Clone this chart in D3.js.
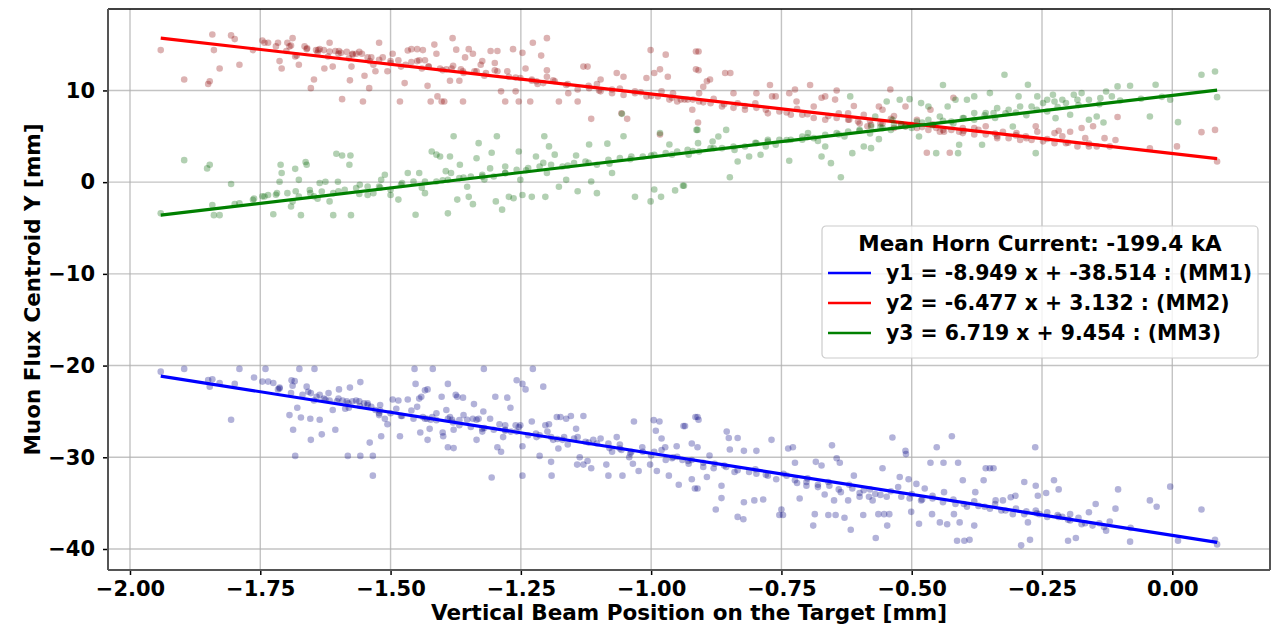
<!DOCTYPE html>
<html>
<head>
<meta charset="utf-8">
<script src="https://cdn.jsdelivr.net/npm/d3@7"></script>
<style>
  body { margin: 0; background: #fff; }
  svg text { font-family: "DejaVu Sans", sans-serif; font-weight: bold; }
</style>
</head>
<body>
<script>
// beam position [mm] vs centroid [mm]
var mm1 = [
  [-1.941,-20.66],[-1.896,-20.36],[-1.850,-21.57],[-1.842,-21.5],[-1.847,-22.3],[-1.828,-21.9],[-1.806,-25.9],[-1.799,-22.0],
  [-1.790,-20.36],[-1.762,-21.3],[-1.746,-21.75],[-1.740,-20.36],[-1.735,-21.75],[-1.725,-21.9],[-1.716,-22.6],[-1.713,-22.5],
  [-1.694,-25.4],[-1.69,-21.6],[-1.688,-22.2],[-1.684,-21.7],[-1.687,-27.0],[-1.683,-29.85],[-1.679,-24.6],[-1.675,-20.36],
  [-1.672,-25.66],[-1.661,-22.3],[-1.658,-22.85],[-1.653,-23.0],[-1.654,-25.8],[-1.653,-28.1],[-1.646,-20.36],[-1.642,-23.4],
  [-1.636,-23.2],[-1.628,-23.6],[-1.619,-23.0],[-1.617,-23.8],[-1.636,-25.9],[-1.632,-27.5],[-1.611,-24.85],[-1.606,-27.0],
  [-1.599,-22.6],[-1.592,-23.8],[-1.584,-23.9],[-1.578,-22.4],[-1.587,-24.7],[-1.582,-29.85],[-1.558,-29.85],[-1.534,-29.85],
  [-1.573,-23.9],[-1.566,-23.8],[-1.558,-21.8],[-1.551,-24.1],[-1.544,-24.3],[-1.537,-24.5],[-1.540,-28.4],[-1.534,-32.0],
  [-1.529,-24.85],[-1.522,-25.4],[-1.520,-24.3],[-1.511,-25.8],[-1.506,-26.4],[-1.518,-27.7],[-1.496,-23.7],[-1.485,-23.8],
  [-1.489,-24.7],[-1.482,-27.7],[-1.467,-23.7],[-1.454,-20.36],[-1.419,-20.36],[-1.452,-22.0],[-1.445,-23.6],[-1.441,-23.4],
  [-1.434,-22.7],[-1.429,-22.6],[-1.449,-24.5],[-1.438,-25.6],[-1.430,-25.8],[-1.423,-25.9],[-1.412,-25.2],[-1.443,-27.3],
  [-1.429,-28.1],[-1.425,-26.9],[-1.402,-23.4],[-1.393,-24.85],[-1.390,-22.0],[-1.390,-28.9],[-1.379,-29.0],[-1.400,-27.3],
  [-1.399,-27.7],[-1.386,-25.6],[-1.382,-25.9],[-1.379,-27.0],[-1.375,-23.2],[-1.372,-23.4],[-1.361,-23.5],[-1.368,-26.5],
  [-1.353,-25.9],[-1.342,-25.8],[-1.335,-25.9],[-1.331,-25.8],[-1.340,-24.2],[-1.335,-28.1],[-1.324,-27.2],[-1.322,-25.0],
  [-1.321,-20.36],[-1.306,-32.2],[-1.309,-25.8],[-1.299,-23.4],[-1.295,-28.9],[-1.291,-26.4],[-1.288,-29.4],[-1.284,-27.8],
  [-1.276,-23.5],[-1.270,-24.6],[-1.280,-26.5],[-1.269,-27.2],[-1.258,-21.6],[-1.254,-26.7],[-1.251,-26.5],[-1.247,-22.0],
  [-1.247,-28.8],[-1.247,-32.0],[-1.241,-22.6],[-1.229,-26.1],[-1.227,-20.36],[-1.221,-27.4],[-1.214,-29.85],[-1.207,-22.3],
  [-1.203,-26.5],[-1.199,-27.2],[-1.196,-26.4],[-1.192,-30.5],[-1.191,-32.0],[-1.188,-28.1],[-1.181,-25.6],[-1.174,-25.6],
  [-1.178,-29.05],[-1.167,-27.8],[-1.163,-25.8],[-1.154,-25.5],[-1.144,-26.9],[-1.142,-30.8],[-1.141,-27.8],[-1.137,-30.0],
  [-1.130,-25.5],[-1.130,-30.8],[-1.122,-30.4],[-1.115,-31.2],[-1.111,-28.1],[-1.097,-27.95],[-1.086,-30.8],[-1.082,-32.0],
  [-1.075,-29.4],[-1.066,-27.8],[-1.057,-29.2],[-1.055,-32.0],[-1.042,-30.0],[-1.035,-30.7],[-1.033,-26.1],[-1.024,-31.5],
  [-1.017,-28.9],[-1.002,-30.8],[-0.995,-25.95],[-0.991,-27.1],[-0.989,-31.5],[-0.984,-26.1],[-0.980,-27.95],[-0.973,-28.9],
  [-0.966,-32.0],[-0.958,-30.0],[-0.951,-28.8],[-0.947,-33.0],[-0.938,-26.6],[-0.929,-30.4],[-0.922,-32.4],[-0.916,-33.4],
  [-0.915,-25.6],[-0.935,-26.6],[-0.911,-25.6],[-0.909,-25.9],[-0.922,-28.5],[-0.911,-28.9],[-0.911,-33.4],
  [-0.888,-29.8],[-0.893,-32.15],[-0.876,-35.7],[-0.865,-33.1],[-0.865,-34.45],[-0.855,-27.2],[-0.851,-27.9],[-0.849,-29.15],
  [-0.834,-27.9],[-0.834,-36.5],[-0.823,-36.75],[-0.822,-34.9],[-0.822,-29.3],[-0.802,-34.7],[-0.798,-29.3],[-0.785,-34.6],
  [-0.769,-28.1],[-0.754,-36.3],[-0.747,-36.3],[-0.75,-35.7],[-0.737,-29.05],[-0.728,-28.9],[-0.724,-30.6],[-0.715,-34.5],
  [-0.702,-33.1],[-0.689,-37.45],[-0.686,-36.2],[-0.684,-30.5],[-0.673,-30.9],[-0.667,-34.05],[-0.660,-36.3],[-0.653,-28.7],
  [-0.649,-34.7],[-0.646,-36.3],[-0.644,-30.1],[-0.638,-30.6],[-0.629,-36.6],[-0.622,-34.7],[-0.617,-37.9],[-0.611,-32.0],
  [-0.600,-34.3],[-0.593,-36.3],[-0.582,-34.3],[-0.575,-34.7],[-0.569,-38.8],[-0.564,-36.2],[-0.556,-31.2],[-0.553,-36.2],
  [-0.547,-37.45],[-0.543,-36.2],[-0.537,-27.85],[-0.523,-32.15],[-0.512,-29.3],[-0.511,-29.65],[-0.506,-32.4],[-0.501,-35.95],
  [-0.491,-32.9],[-0.486,-37.25],[-0.475,-33.4],[-0.464,-30.6],[-0.461,-36.2],[-0.452,-28.9],[-0.446,-37.1],[-0.439,-30.6],
  [-0.432,-37.3],[-0.423,-27.7],[-0.419,-36.2],[-0.413,-39.1],[-0.411,-30.6],[-0.408,-37.1],[-0.402,-32.5],[-0.399,-39.1],
  [-0.389,-39.0],[-0.380,-37.45],[-0.378,-33.8],[-0.362,-32.5],[-0.358,-31.2],[-0.350,-31.2],[-0.343,-31.2],[-0.339,-34.7],
  [-0.325,-34.7],[-0.310,-34.35],[-0.301,-34.2],[-0.290,-39.6],[-0.284,-32.7],[-0.277,-37.1],[-0.273,-39.0],[-0.263,-28.9],
  [-0.262,-33.1],[-0.258,-34.2],[-0.255,-36.2],[-0.242,-33.9],[-0.227,-32.5],[-0.218,-33.5],[-0.211,-36.5],[-0.200,-39.1],
  [-0.196,-36.2],[-0.185,-38.8],[-0.167,-37.2],[-0.160,-36.0],[-0.147,-35.1],[-0.127,-38.0],[-0.109,-35.6],[-0.104,-33.5],
  [-0.081,-39.2],[-0.043,-34.7],[-0.030,-35.4],[-0.004,-33.2],[0.011,-39.1],[0.056,-35.7],[0.082,-39.0],[0.086,-39.5],
  [-0.922,-30.3],[-0.900,-31.05],[-0.878,-30.7],[-0.856,-31.05],[-0.834,-31.4],[-0.812,-31.6],[-0.798,-31.8],[-0.776,-32.0],
  [-0.746,-31.8],[-0.724,-32.5],[-0.702,-32.7],[-0.680,-33.25],[-0.658,-33.1],[-0.636,-33.8],[-0.614,-33.4],[-0.592,-33.6],
  [-0.570,-34.0],[-0.548,-34.3],[-0.526,-33.25],[-0.504,-34.5],[-0.482,-34.7],[-0.460,-34.5],[-0.438,-33.8],[-0.416,-35.1],
  [-0.394,-35.4],[-0.372,-35.3],[-0.350,-35.6],[-0.328,-35.8],[-0.306,-36.2],[-0.284,-36.2],[-0.262,-35.8],[-0.240,-36.5],
  [-0.218,-36.5],[-0.196,-36.9],[-0.174,-37.3],[-0.153,-37.45],[-0.131,-37.6],
  [-1.713,-22.4],[-1.691,-23.0],[-1.669,-23.2],[-1.647,-23.8],[-1.625,-23.7],[-1.603,-23.9],[-1.581,-24.1],[-1.559,-24.4],
  [-1.544,-24.1],[-1.522,-25.2],[-1.500,-25.2],[-1.478,-25.5],[-1.456,-25.8],[-1.434,-25.8],[-1.412,-25.95],[-1.390,-25.8],
  [-1.368,-25.95],[-1.346,-26.7],[-1.324,-26.9],[-1.302,-27.0],[-1.280,-27.0],[-1.258,-27.2],[-1.236,-27.6],[-1.214,-27.6],
  [-1.192,-27.8],[-1.170,-28.1],[-1.148,-27.95],[-1.126,-28.3],[-1.104,-28.5],[-1.082,-28.5],[-1.060,-29.05],[-1.038,-29.4],
  [-1.016,-29.4],[-0.994,-29.4],[-0.972,-30.3],[-0.950,-29.95],[-0.928,-30.7],
  [-1.60,-23.6],[-1.58,-24.6],[-1.56,-23.9],[-1.52,-24.9],[-1.48,-25.5],[-1.46,-24.9],[-1.42,-25.6],[-1.38,-26.2],[-1.36,-25.4],
  [-1.32,-26.8],[-1.28,-27.1],[-1.26,-26.5],[-1.22,-27.8],[-1.18,-28.0],[-1.16,-28.6],[-1.12,-28.4],[-1.08,-29.0],[-1.06,-28.6],
  [-1.04,-29.6],[-1.00,-29.8],[-0.98,-29.2],[-0.96,-30.1],[-0.94,-30.3],[-0.90,-30.6],[-0.88,-31.2],[-0.86,-30.9],[-0.84,-31.6],
  [-0.80,-31.3],[-0.78,-31.9],[-0.76,-32.4],[-0.74,-32.0],[-0.72,-32.8],[-0.70,-32.3],[-0.68,-33.0],[-0.66,-32.7],[-0.64,-33.5],
  [-0.62,-33.0],[-0.60,-33.9],[-0.58,-33.5],[-0.56,-34.1],[-0.54,-33.7],[-0.52,-34.3],[-0.50,-34.0],[-0.48,-34.6],[-0.46,-34.2],
  [-0.44,-34.9],[-0.42,-34.6],[-0.40,-35.1],[-0.38,-34.8],[-0.36,-35.4],[-0.34,-35.1],[-0.32,-35.8],[-0.30,-35.6],[-0.28,-35.9],
  [-0.26,-36.1],[-0.24,-36.0],[-0.22,-36.3],[-0.20,-36.8],[-0.18,-36.6],[-0.14,-37.2],[-0.12,-37.0],[-0.08,-37.7]
];

var mm2 = [
  [-1.941,14.4],[-1.896,11.2],[-1.850,10.7],[-1.847,11.0],[-1.842,16.1],[-1.839,14.4],[-1.828,12.4],[-1.806,16.0],[-1.799,15.6],
  [-1.790,12.8],[-1.764,14.4],[-1.746,15.45],[-1.735,15.2],[-1.716,15.2],[-1.709,12.4],[-1.713,13.2],[-1.698,15.2],[-1.694,14.8],
  [-1.688,15.7],[-1.683,13.7],[-1.676,12.8],[-1.665,14.8],[-1.653,10.25],[-1.647,11.2],[-1.643,14.4],[-1.636,14.5],[-1.628,14.4],
  [-1.627,12.4],[-1.617,15.2],[-1.611,12.6],[-1.606,14.3],[-1.599,14.3],[-1.593,9.05],[-1.584,14.2],[-1.578,11.1],[-1.575,12.6],
  [-1.573,14.0],[-1.566,14.0],[-1.555,14.0],[-1.553,8.8],[-1.550,11.6],[-1.541,10.25],[-1.537,13.6],[-1.533,12.8],[-1.529,12.1],
  [-1.522,15.2],[-1.515,13.6],[-1.506,12.1],[-1.496,14.0],[-1.485,13.3],[-1.482,8.8],[-1.473,10.8],[-1.467,14.35],[-1.460,14.5],
  [-1.449,14.5],[-1.445,13.3],[-1.438,14.4],[-1.434,13.3],[-1.429,10.5],[-1.427,12.6],[-1.423,8.8],[-1.416,15.0],[-1.412,14.0],
  [-1.410,9.35],[-1.402,8.8],[-1.397,8.8],[-1.393,12.3],[-1.386,11.05],[-1.381,15.7],[-1.374,14.45],[-1.368,11.05],[-1.365,12.3],
  [-1.361,8.8],[-1.357,13.6],[-1.350,14.5],[-1.342,14.0],[-1.335,12.1],[-1.327,12.8],[-1.324,13.2],[-1.308,14.3],[-1.300,13.0],
  [-1.295,14.3],[-1.288,9.9],[-1.280,8.8],[-1.276,12.1],[-1.265,14.5],[-1.260,9.9],[-1.254,8.8],[-1.247,14.1],[-1.241,12.4],
  [-1.232,8.8],[-1.229,11.05],[-1.227,15.2],[-1.218,10.7],[-1.211,13.8],[-1.200,15.7],[-1.200,12.2],[-1.188,11.1],[-1.177,8.8],
  [-1.159,9.7],[-1.141,8.8],[-1.130,12.6],[-1.122,12.6],[-1.115,6.9],[-1.104,10.7],[-1.097,11.2],[-1.075,10.1],[-1.066,11.9],
  [-1.057,7.5],[-1.053,11.5],[-1.046,6.9],[-1.031,9.9],[-1.009,11.35],[-1.001,14.4],[-0.994,11.9],[-0.983,12.3],[-0.983,5.2],
  [-0.972,13.9],[-0.968,11.5],[-0.958,9.7],[-0.950,8.8],[-0.936,9.0],[-0.921,7.9],[-0.914,14.25],[-0.914,12.3],[-0.910,6.5],
  [-1.742,15.2],[-1.720,14.8],[-1.691,14.9],[-1.661,14.5],[-1.639,14.4],[-1.617,14.25],[-1.595,14.1],[-1.573,13.9],[-1.544,13.6],
  [-1.522,13.35],[-1.500,13.2],[-1.471,12.8],[-1.449,13.2],[-1.427,12.6],[-1.405,12.4],[-1.383,12.4],[-1.361,12.1],[-1.339,12.1],
  [-1.317,11.9],[-1.295,12.1],[-1.273,11.5],[-1.251,11.35],[-1.229,11.2],[-1.207,10.8],[-1.185,11.0],[-1.163,10.6],[-1.141,10.1],
  [-1.119,10.25],[-1.097,9.9],[-1.075,9.7],[-1.053,9.5],[-1.031,9.7],[-1.009,9.35],[-0.987,9.35],[-0.965,9.0],[-0.943,9.0],
  [-0.909,14.25],[-0.909,12.2],[-0.908,9.7],[-0.900,10.4],[-0.893,11.0],[-0.887,11.2],[-0.858,11.9],[-0.848,11.9],
  [-0.842,9.7],[-0.834,8.6],[-0.798,9.7],[-0.772,10.6],[-0.768,9.35],[-0.761,9.35],[-0.735,9.7],[-0.724,10.1],[-0.721,8.8],
  [-0.695,10.6],[-0.688,8.25],[-0.673,9.2],[-0.666,9.35],[-0.647,9.0],[-0.644,10.0],[-0.622,7.5],[-0.611,8.3],[-0.603,6.6],
  [-0.592,7.35],[-0.585,6.1],[-0.563,8.25],[-0.556,7.9],[-0.541,10.1],[-0.534,7.2],[-0.512,8.25],[-0.501,6.25],[-0.490,6.8],
  [-0.471,3.2],[-0.464,7.9],[-0.453,5.9],[-0.438,5.5],[-0.427,3.2],[-0.420,9.2],[-0.409,5.5],[-0.402,5.9],[-0.372,5.7],
  [-0.358,6.1],[-0.336,4.8],[-0.325,5.5],[-0.299,5.35],[-0.281,5.0],[-0.262,6.1],[-0.259,5.5],[-0.226,5.35],[-0.218,5.6],
  [-0.211,5.0],[-0.196,5.5],[-0.174,5.9],[-0.167,4.8],[-0.152,6.1],[-0.145,3.9],[-0.130,4.8],[-0.109,4.6],[-0.105,7.1],
  [-0.043,3.7],[0.009,3.9],[0.056,5.45],[0.082,5.7],[0.086,2.25],
  [-0.930,9.0],[-0.908,8.8],[-0.886,8.6],[-0.864,8.25],[-0.842,8.1],[-0.820,7.9],[-0.798,8.1],[-0.776,7.5],[-0.754,7.7],
  [-0.732,7.35],[-0.710,7.35],[-0.688,7.0],[-0.666,6.8],[-0.644,7.0],[-0.622,6.8],[-0.600,6.4],[-0.578,6.25],[-0.556,6.4],
  [-0.534,5.9],[-0.512,6.1],[-0.490,5.9],[-0.468,5.7],[-0.446,5.5],[-0.424,5.7],[-0.402,5.35],[-0.380,5.2],[-0.358,5.2],
  [-0.336,5.0],[-0.314,4.8],[-0.292,4.6],[-0.270,4.6],[-0.248,4.45],[-0.226,4.25],[-0.204,4.25],[-0.182,3.9],[-0.160,3.9],
  [-1.70,14.3],[-1.68,13.8],[-1.66,14.6],[-1.64,14.1],[-1.62,13.7],[-1.60,14.0],[-1.58,13.5],[-1.56,14.2],[-1.54,13.2],
  [-1.50,13.0],[-1.48,12.6],[-1.46,13.1],[-1.44,12.4],[-1.40,12.2],[-1.38,12.7],[-1.36,11.9],[-1.32,11.6],[-1.30,12.2],
  [-1.26,11.4],[-1.22,11.0],[-1.20,11.5],[-1.16,10.7],[-1.12,10.5],[-1.10,10.0],[-1.06,10.2],[-1.02,9.8],[-1.00,9.4],
  [-0.98,9.9],[-0.96,9.2],[-0.92,9.0],[-0.90,8.7],[-0.88,9.1],[-0.86,8.5],[-0.82,8.3],[-0.80,8.6],[-0.78,7.9],[-0.74,7.6],
  [-0.72,8.0],[-0.70,7.4],[-0.66,7.2],[-0.64,7.5],[-0.62,6.8],[-0.58,6.7],[-0.56,6.4],[-0.54,6.9],[-0.52,6.2],[-0.48,6.0],
  [-0.46,6.3],[-0.44,5.7],[-0.40,5.6],[-0.38,5.9],[-0.34,5.3],[-0.30,5.1],[-0.28,4.8],[-0.24,4.7],[-0.20,4.3],[-0.16,4.2],
  [-0.12,3.9]
];

var mm3 = [
  [-1.941,-3.4],[-1.896,2.4],[-1.852,1.5],[-1.847,1.9],[-1.842,-2.5],[-1.839,-3.6],[-1.828,-3.6],[-1.806,-0.2],[-1.799,-2.4],
  [-1.790,-2.3],[-1.762,-1.8],[-1.746,-1.55],[-1.735,-1.4],[-1.725,-3.5],[-1.718,-1.2],[-1.713,0.05],[-1.711,1.9],[-1.709,1.0],
  [-1.691,-2.65],[-1.688,-2.1],[-1.683,1.45],[-1.682,-1.0],[-1.676,0.25],[-1.672,-3.6],[-1.663,2.2],[-1.661,1.9],[-1.655,-0.85],
  [-1.647,-1.55],[-1.636,-0.1],[-1.625,0.05],[-1.617,-2.1],[-1.610,-3.6],[-1.604,3.1],[-1.601,0.05],[-1.593,2.9],[-1.579,1.9],
  [-1.577,2.9],[-1.576,-3.6],[-1.559,-0.29],[-1.544,-1.4],[-1.533,-1.2],[-1.518,0.25],[-1.511,0.8],[-1.500,-1.4],[-1.485,-1.9],
  [-1.467,1.0],[-1.452,-3.55],[-1.445,1.0],[-1.434,-1.2],[-1.421,3.35],[-1.412,3.0],[-1.405,2.8],[-1.394,1.2],[-1.390,-3.4],
  [-1.386,2.8],[-1.384,1.0],[-1.379,5.0],[-1.372,-1.9],[-1.367,1.9],[-1.353,-0.5],[-1.350,-1.6],[-1.342,-2.4],[-1.335,2.6],
  [-1.331,4.25],[-1.324,0.6],[-1.309,1.5],[-1.306,3.2],[-1.298,-2.1],[-1.296,5.0],[-1.286,-3.0],[-1.280,1.7],[-1.273,-1.6],
  [-1.264,-1.75],[-1.254,3.35],[-1.251,0.25],[-1.247,-1.4],[-1.229,-1.6],[-1.221,2.8],[-1.207,2.1],[-1.205,5.0],[-1.203,-1.6],
  [-1.196,3.9],[-1.185,3.0],[-1.177,-0.5],[-1.163,0.25],[-1.144,2.9],[-1.141,-1.0],[-1.119,4.1],[-1.115,0.07],[-1.104,-1.2],
  [-1.084,4.2],[-1.075,1.0],[-1.056,7.45],[-1.053,5.0],[-1.031,-1.6],[-1.001,-2.1],[-0.994,-0.8],[-0.983,5.35],[-0.981,-1.6],
  [-0.965,4.1],[-0.954,-0.9],[-0.939,-0.4],[-0.913,5.7],[-0.910,4.25],
  [-1.764,-1.93],[-1.742,-1.56],[-1.720,-1.38],[-1.698,-1.2],[-1.676,-1.56],[-1.654,-1.2],[-1.632,-1.02],[-1.610,-1.2],
  [-1.588,-0.84],[-1.566,-0.65],[-1.544,-0.47],[-1.522,-0.47],[-1.500,-0.84],[-1.478,-0.11],[-1.456,0.07],[-1.434,0.07],
  [-1.412,0.07],[-1.390,0.25],[-1.368,0.44],[-1.346,0.62],[-1.324,0.8],[-1.302,0.62],[-1.280,0.98],[-1.258,1.35],[-1.236,1.53],
  [-1.214,1.71],[-1.192,1.89],[-1.170,1.71],[-1.148,2.07],[-1.126,2.25],[-1.104,1.89],[-1.082,2.44],[-1.060,2.62],[-1.038,2.8],
  [-1.016,2.8],[-0.994,2.98],[-0.972,3.16],[-0.950,3.35],[-0.928,2.98],
  [-0.937,-0.4],[-0.911,5.7],[-0.882,4.44],[-0.871,4.98],[-0.856,5.7],[-0.849,0.54],[-0.834,2.25],[-0.812,2.8],[-0.790,2.98],
  [-0.776,4.62],[-0.761,4.07],[-0.735,2.33],[-0.710,4.62],[-0.699,5.35],[-0.673,2.8],[-0.666,3.89],[-0.655,2.07],[-0.636,0.54],
  [-0.629,4.98],[-0.618,9.35],[-0.614,3.16],[-0.592,3.89],[-0.578,3.71],[-0.570,7.16],[-0.563,4.69],[-0.548,8.8],[-0.537,6.8],
  [-0.523,8.98],[-0.504,9.05],[-0.486,4.98],[-0.482,8.62],[-0.468,8.25],[-0.453,3.16],[-0.440,10.6],[-0.431,8.25],[-0.416,8.98],
  [-0.411,3.16],[-0.409,4.07],[-0.394,8.98],[-0.380,9.35],[-0.365,4.07],[-0.350,9.71],[-0.343,7.53],[-0.322,11.71],[-0.306,6.07],
  [-0.295,9.35],[-0.277,10.62],[-0.262,3.16],[-0.259,9.35],[-0.240,8.98],[-0.229,9.53],[-0.224,6.98],[-0.211,8.98],[-0.196,7.35],
  [-0.189,9.53],[-0.174,9.71],[-0.160,6.8],[-0.145,7.16],[-0.132,6.51],[-0.127,9.89],[-0.105,10.44],[-0.081,10.51],[-0.043,7.16],
  [-0.032,10.62],[-0.004,8.98],[0.011,6.54],[0.056,11.71],[0.082,12.07],[0.086,9.27],
  [-0.930,3.53],[-0.908,3.35],[-0.886,3.71],[-0.864,3.71],[-0.842,3.89],[-0.820,3.89],[-0.798,4.25],[-0.776,4.44],[-0.754,4.62],
  [-0.732,4.62],[-0.710,4.98],[-0.688,4.8],[-0.666,5.16],[-0.644,5.35],[-0.622,5.53],[-0.600,5.71],[-0.578,6.07],[-0.556,5.89],
  [-0.534,6.25],[-0.512,6.07],[-0.490,6.62],[-0.468,6.8],[-0.446,7.16],[-0.424,6.62],[-0.402,6.98],[-0.380,7.53],[-0.358,7.53],
  [-0.336,8.07],[-0.314,7.89],[-0.292,8.25],[-0.270,8.25],[-0.248,8.62],[-0.226,8.8],[-0.204,8.62],[-0.182,8.98],[-0.160,8.98],
  [-0.138,9.16],[-0.116,9.35],
  [-1.64,-1.8],[-1.60,-1.0],[-1.56,-1.3],[-1.52,-0.6],[-1.48,-0.3],[-1.44,-0.6],[-1.40,0.2],[-1.36,0.5],[-1.32,0.3],[-1.28,1.0],
  [-1.24,1.3],[-1.20,1.0],[-1.16,1.8],[-1.12,2.1],[-1.08,2.0],[-1.04,2.5],[-1.00,2.9],[-0.96,3.0],[-0.92,3.4],[-0.88,3.7],
  [-0.84,3.5],[-0.80,4.3],[-0.78,3.9],[-0.74,4.6],[-0.70,4.9],[-0.68,4.5],[-0.64,5.2],[-0.60,5.6],[-0.58,5.3],[-0.56,6.0],
  [-0.54,5.7],[-0.52,6.3],[-0.50,5.9],[-0.48,6.5],[-0.46,6.2],[-0.44,6.7],[-0.42,6.4],[-0.40,7.0],[-0.38,6.8],[-0.36,7.3],
  [-0.34,7.0],[-0.32,7.5],[-0.30,7.6],[-0.28,7.3],[-0.26,7.9],[-0.24,7.7],[-0.22,8.2],[-0.18,8.4],[-0.14,8.5],[-0.10,8.9],
  [-0.06,9.1],[-0.02,9.3]
];

// linear fits y = m x + b
var slopes = [-8.949, -6.477, 6.719];
var intercepts = [-38.514, 3.132, 9.454];
var seriesNames = ["MM1", "MM2", "MM3"];
var legendTitle = "Mean Horn Current: -199.4 kA";

var xTicks = [-2.0, -1.75, -1.5, -1.25, -1.0, -0.75, -0.5, -0.25, 0.0];
var yTicks = [-40, -30, -20, -10, 0, 10];

var pointColors = ["navy", "darkred", "darkgreen"];
var lineColors = ["#0000ff", "#ff0000", "#008000"];

drawChart();

function drawChart() {
    var width = 1283, height = 629;
    var mLeft = 108, mRight = 1270, mTop = 9, mBottom = 570;

    var svg = d3.select("body").append("svg")
        .attr("width", width)
        .attr("height", height);

    var x = d3.scaleLinear().domain([-2.0422, 0.1875]).range([mLeft, mRight]);
    var y = d3.scaleLinear().domain([-42.29, 18.88]).range([mBottom, mTop]);

    // grid
    svg.append("g").selectAll("line").data(xTicks).enter().append("line")
        .attr("x1", d => x(d)).attr("x2", d => x(d))
        .attr("y1", mTop).attr("y2", mBottom)
        .attr("stroke", "#b0b0b0").attr("stroke-width", 1.4).attr("opacity", 0.75);
    svg.append("g").selectAll("line").data(yTicks).enter().append("line")
        .attr("x1", mLeft).attr("x2", mRight)
        .attr("y1", d => y(d)).attr("y2", d => y(d))
        .attr("stroke", "#b0b0b0").attr("stroke-width", 1.4).attr("opacity", 0.75);

    var allData = [mm1, mm2, mm3];
    var xExt = d3.extent(d3.merge(allData), d => d[0]);

    allData.forEach(function(pts, i) {
        svg.append("g").selectAll("circle").data(pts).enter().append("circle")
            .attr("cx", d => x(d[0]))
            .attr("cy", d => y(d[1]))
            .attr("r", 3.3)
            .attr("fill", pointColors[i])
            .attr("fill-opacity", 0.3);
        svg.append("line")
            .attr("x1", x(xExt[0])).attr("y1", y(slopes[i] * xExt[0] + intercepts[i]))
            .attr("x2", x(xExt[1])).attr("y2", y(slopes[i] * xExt[1] + intercepts[i]))
            .attr("stroke", lineColors[i])
            .attr("stroke-width", 3.2);
    });

    // axes
    var xAxis = d3.axisBottom(x).tickValues(xTicks).tickFormat(d3.format(".2f"))
        .tickSize(5).tickPadding(6).tickSizeOuter(0);
    var gx = svg.append("g").attr("transform", "translate(0," + mBottom + ")").call(xAxis);
    var yAxis = d3.axisLeft(y).tickValues(yTicks).tickFormat(d3.format("d"))
        .tickSize(5).tickPadding(8).tickSizeOuter(0);
    var gy = svg.append("g").attr("transform", "translate(" + mLeft + ",0)").call(yAxis);
    [gx, gy].forEach(function(g) {
        g.select(".domain").remove();
        g.selectAll(".tick line").attr("stroke", "#000").attr("stroke-width", 1.5);
        g.selectAll(".tick text").attr("fill", "#000").style("font-size", "21px");
    });

    // spines
    svg.append("line").attr("x1", mLeft).attr("x2", mRight).attr("y1", mTop).attr("y2", mTop)
        .attr("stroke", "#000").attr("stroke-width", 1.3);
    svg.append("line").attr("x1", mLeft).attr("x2", mRight).attr("y1", mBottom).attr("y2", mBottom)
        .attr("stroke", "#555").attr("stroke-width", 2);
    svg.append("line").attr("x1", mLeft).attr("x2", mLeft).attr("y1", mTop).attr("y2", mBottom)
        .attr("stroke", "#555").attr("stroke-width", 2);
    svg.append("line").attr("x1", mRight).attr("x2", mRight).attr("y1", mTop).attr("y2", mBottom)
        .attr("stroke", "#555").attr("stroke-width", 2);

    // axis labels
    svg.append("text")
        .attr("x", (mLeft + mRight) / 2).attr("y", 620)
        .attr("text-anchor", "middle")
        .style("font-size", "21.5px")
        .text("Vertical Beam Position on the Target [mm]");
    svg.append("text")
        .attr("transform", "translate(40," + ((mTop + mBottom) / 2) + ") rotate(-90)")
        .attr("text-anchor", "middle")
        .style("font-size", "21.5px")
        .text("Muon Flux Centroid Y [mm]");

    // legend
    var lg = svg.append("g").attr("transform", "translate(822,226)");
    lg.append("rect")
        .attr("width", 436).attr("height", 132).attr("rx", 4)
        .attr("fill", "#fff").attr("fill-opacity", 0.8)
        .attr("stroke", "#cccccc").attr("stroke-width", 1.2);
    lg.append("text")
        .attr("x", 218).attr("y", 25).attr("text-anchor", "middle")
        .style("font-size", "21.5px")
        .text(legendTitle);
    seriesNames.forEach(function(name, i) {
        var ry = 47 + i * 30;
        lg.append("line")
            .attr("x1", 6).attr("x2", 49).attr("y1", ry).attr("y2", ry)
            .attr("stroke", lineColors[i]).attr("stroke-width", 2.5);
        lg.append("text")
            .attr("x", 64).attr("y", ry + 7)
            .style("font-size", "20.4px")
            .text("y" + (i + 1) + " = " + slopes[i].toFixed(3) + " x + " + intercepts[i].toFixed(3) + " : (" + name + ")");
    });
}
</script>
</body>
</html>
